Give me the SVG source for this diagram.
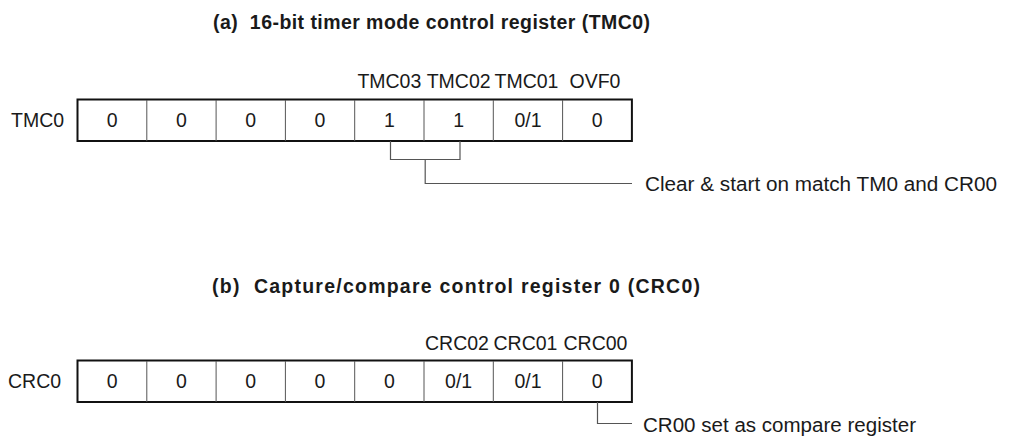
<svg xmlns="http://www.w3.org/2000/svg" width="1010" height="440" viewBox="0 0 1010 440">
<style>
.title{font-family:"Liberation Sans",Arial,sans-serif;font-size:19.5px;font-weight:bold;fill:#1a1a1a}
.t{font-family:"Liberation Sans",Arial,sans-serif;font-size:19.5px;fill:#1a1a1a}
.n{font-family:"Liberation Sans",Arial,sans-serif;font-size:20px;fill:#1a1a1a}
.c{text-anchor:middle}
.box{fill:#fff;stroke:#111;stroke-width:2}
.div{stroke:#555;stroke-width:1}
.conn{fill:none;stroke:#555;stroke-width:1.2}
</style>
<rect width="1010" height="440" fill="#fff"/>
<text class="title" x="213" y="29" textLength="437" lengthAdjust="spacing">(a)&#160; 16-bit timer mode control register (TMC0)</text>
<text class="title" x="212" y="293" textLength="488" lengthAdjust="spacing">(b)&#160; Capture/compare control register 0 (CRC0)</text>

<g id="reg-tmc0">
<text class="t" x="11" y="127">TMC0</text>
<rect class="box" x="77.5" y="99.5" width="554.4" height="41.5"/>
<g class="div">
<line x1="146.8" y1="100" x2="146.8" y2="141"/>
<line x1="216.1" y1="100" x2="216.1" y2="141"/>
<line x1="285.4" y1="100" x2="285.4" y2="141"/>
<line x1="354.7" y1="100" x2="354.7" y2="141"/>
<line x1="424" y1="100" x2="424" y2="141"/>
<line x1="493.3" y1="100" x2="493.3" y2="141"/>
<line x1="562.6" y1="100" x2="562.6" y2="141"/>
</g>
<g class="t c">
<text x="112.15" y="127">0</text>
<text x="181.45" y="127">0</text>
<text x="250.75" y="127">0</text>
<text x="320.05" y="127">0</text>
<text x="389.35" y="127">1</text>
<text x="458.65" y="127">1</text>
<text x="527.95" y="127">0/1</text>
<text x="597.25" y="127">0</text>
<text x="389.35" y="88">TMC03</text>
<text x="458.65" y="88">TMC02</text>
<text x="526.5" y="88">TMC01</text>
<text x="595" y="88">OVF0</text>
</g>
</g>

<g id="reg-crc0">
<text class="t" x="8" y="387.5">CRC0</text>
<rect class="box" x="77.5" y="360.5" width="554.4" height="41.5"/>
<g class="div">
<line x1="146.8" y1="361" x2="146.8" y2="402"/>
<line x1="216.1" y1="361" x2="216.1" y2="402"/>
<line x1="285.4" y1="361" x2="285.4" y2="402"/>
<line x1="354.7" y1="361" x2="354.7" y2="402"/>
<line x1="424" y1="361" x2="424" y2="402"/>
<line x1="493.3" y1="361" x2="493.3" y2="402"/>
<line x1="562.6" y1="361" x2="562.6" y2="402"/>
</g>
<g class="t c">
<text x="112.15" y="387.5">0</text>
<text x="181.45" y="387.5">0</text>
<text x="250.75" y="387.5">0</text>
<text x="320.05" y="387.5">0</text>
<text x="389.35" y="387.5">0</text>
<text x="458.65" y="387.5">0/1</text>
<text x="527.95" y="387.5">0/1</text>
<text x="597.25" y="387.5">0</text>
<text x="457" y="350">CRC02</text>
<text x="525.5" y="350">CRC01</text>
<text x="595.5" y="350">CRC00</text>
</g>
</g>

<g id="connectors">
<path class="conn" d="M390.5 141 V159.5 H460 V141 M425.2 159.5 V183.5 H632"/>
<path class="conn" d="M597.5 402 V423.5 H632"/>
</g>

<g id="notes">
<text class="n" x="645" y="191" textLength="352" lengthAdjust="spacingAndGlyphs">Clear &amp; start on match TM0 and CR00</text>
<text class="n" x="643" y="432" textLength="273" lengthAdjust="spacingAndGlyphs">CR00 set as compare register</text>
</g>
</svg>
